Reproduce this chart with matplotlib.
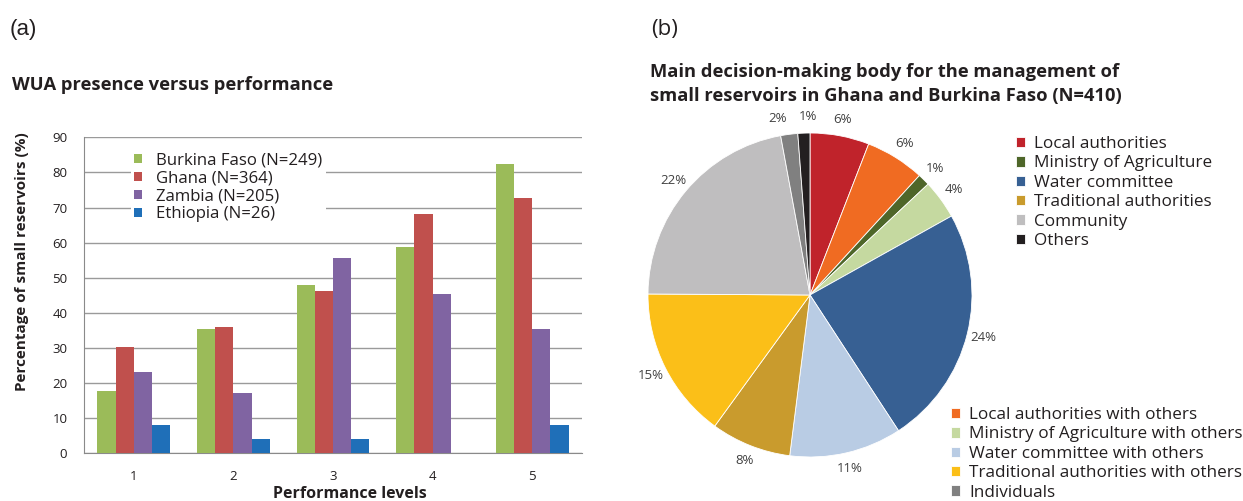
import matplotlib
matplotlib.use("Agg")
import matplotlib.pyplot as plt
import numpy as np

plt.rcParams['font.family'] = ['Open Sans', 'DejaVu Sans']

# --- data: panel (a) ---
levels = [1, 2, 3, 4, 5]
series_names = ["Burkina Faso (N=249)", "Ghana (N=364)", "Zambia (N=205)", "Ethiopia (N=26)"]
burkina = [17.8, 35.4, 48.0, 58.8, 82.4]
ghana = [30.3, 36.0, 46.2, 68.2, 72.7]
zambia = [23.2, 17.2, 55.6, 45.4, 35.4]
ethiopia = [8.1, 4.1, 4.1, 0.0, 8.1]
bar_colors = ["#9BBB59", "#C0504D", "#8064A2", "#1F6FB8"]

# --- data: panel (b) ---
pie_labels = ["Local authorities", "Local authorities with others", "Ministry of Agriculture",
              "Ministry of Agriculture with others", "Water committee", "Water committee with others",
              "Traditional authorities", "Traditional authorities with others", "Community",
              "Individuals", "Others"]
pie_shares = [5.9, 5.9, 1.2, 3.9, 23.9, 11.2, 8.0, 15.1, 22.0, 1.7, 1.2]
pie_colors = ["#C0232B", "#F06B22", "#4E6629", "#C5D9A0", "#376093", "#B9CCE4",
              "#C99B2D", "#FBBF18", "#BFBEBF", "#808080", "#231F20"]
upper_legend = ["Local authorities", "Ministry of Agriculture", "Water committee",
                "Traditional authorities", "Community", "Others"]
lower_legend = ["Local authorities with others", "Ministry of Agriculture with others",
                "Water committee with others", "Traditional authorities with others", "Individuals"]

W, H = 1243, 501
fig = plt.figure(figsize=(W / 100, H / 100), dpi=100)
txt = "#231F20"

# ---------- (a) bar chart ----------
ax = fig.add_axes([84 / W, 1 - 453.3 / H, (582 - 84) / W, (453.3 - 137.3) / H])
bw = 0.183
x = np.array(levels, dtype=float)
all_series = [burkina, ghana, zambia, ethiopia]
for i, vals in enumerate(all_series):
    ax.bar(x + (i - 1.5) * bw, vals, width=bw, color=bar_colors[i], label=series_names[i], zorder=3)
ax.set_xlim(0.5, 5.5)
ax.set_ylim(0, 90)
ax.set_yticks(range(0, 91, 10))
ax.set_xticks(levels)
ax.grid(axis='y', color='#9A9A9A', lw=1.0, zorder=0)
for s in ['top', 'right']:
    ax.spines[s].set_visible(False)
ax.spines['left'].set_color('#8A8A8A')
ax.spines['bottom'].set_color('#8A8A8A')
ax.tick_params(length=0, labelsize=9.5, labelcolor=txt, pad=12)
ax.tick_params(axis='x', pad=12)
ax.set_ylabel("Percentage of small reservoirs (%)", fontsize=11, fontweight='bold', color=txt)
ax.yaxis.set_label_coords(-0.11, 0.605)
ax.set_xlabel("Performance levels", fontsize=11.5, fontweight='bold', color=txt)
ax.xaxis.set_label_coords(0.534, -0.105)
leg = ax.legend(loc='upper left', bbox_to_anchor=(0.077, 0.99), fontsize=12.1, frameon=True,
                facecolor='white', edgecolor='none', framealpha=1, handlelength=0.45,
                handleheight=0.45, handletextpad=0.85, labelspacing=0.12, borderpad=0.2)
leg.set_zorder(5)
for t in leg.get_texts():
    t.set_color(txt)

fig.text(10 / W, 1 - 30 / H, "(a)", fontsize=16, color=txt, family='Liberation Sans', va='center')
fig.text(12 / W, 1 - 85 / H, "WUA presence versus performance", fontsize=13.2, fontweight='bold',
         color=txt, va='center')

# ---------- (b) pie chart ----------
cx, cy, R = 810, 295, 162
pax = fig.add_axes([(cx - R) / W, 1 - (cy + R) / H, 2 * R / W, 2 * R / H])
wedges, texts, autotexts = pax.pie(pie_shares, colors=pie_colors, startangle=90, counterclock=False,
                                   autopct='%.0f%%', pctdistance=1.1,
                                   wedgeprops=dict(edgecolor='white', linewidth=0.6),
                                   textprops=dict(fontsize=9.5, color='#404040'))
pax.set_xlim(-1, 1)
pax.set_ylim(-1, 1)
# the two tiny slices at the top: spread their labels a little like Excel does
ind_lbl = autotexts[pie_labels.index("Individuals")]
oth_lbl = autotexts[pie_labels.index("Others")]
ind_lbl.set_x(ind_lbl.get_position()[0] - 0.06)
oth_lbl.set_x(oth_lbl.get_position()[0] + 0.03)

fig.text(651 / W, 1 - 30 / H, "(b)", fontsize=16, color=txt, va='center')
fig.text(650 / W, 1 - 84 / H, "Main decision-making body for the management of\n"
         "small reservoirs in Ghana and Burkina Faso (N=410)",
         fontsize=13.2, fontweight='bold', color=txt, va='center', linespacing=1.4)

wmap = dict(zip(pie_labels, wedges))
leg_kw = dict(loc='upper left', fontsize=12.3, frameon=False, handlelength=0.55, handleheight=0.55,
              handletextpad=0.5, labelspacing=0.2, borderpad=0.0, borderaxespad=0.0)
lg1 = fig.legend([wmap[n] for n in upper_legend], upper_legend,
                 bbox_to_anchor=(1016 / W, 1 - 136 / H), **leg_kw)
lg2 = fig.legend([wmap[n] for n in lower_legend], lower_legend,
                 bbox_to_anchor=(951 / W, 1 - 407 / H), **leg_kw)
for lg in (lg1, lg2):
    for t in lg.get_texts():
        t.set_color(txt)

fig.savefig("out.png", dpi=100)
